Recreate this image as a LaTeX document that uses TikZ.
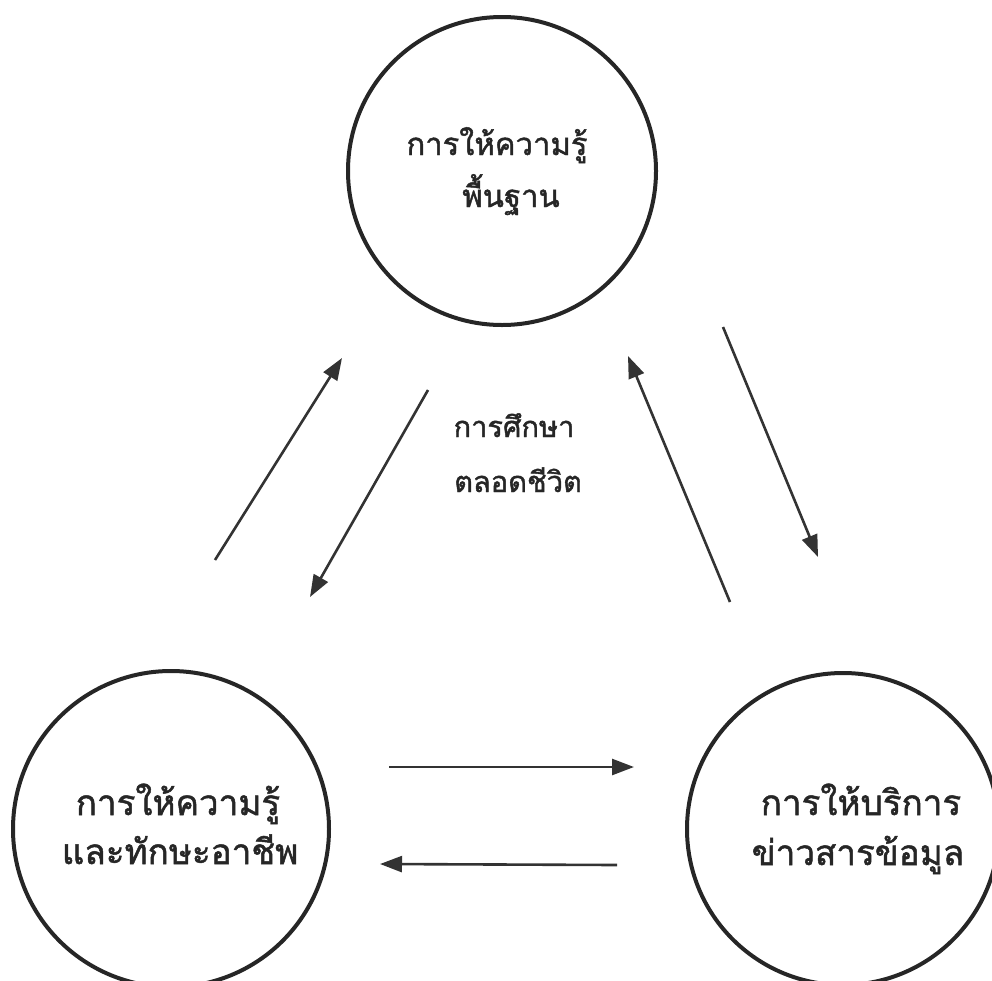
\documentclass[tikz,border=0pt]{standalone}
\usepackage{fontspec}
\newfontfamily\thaifont[Script=Thai,FakeBold=1.4]{Loma}
\usetikzlibrary{arrows.meta}
\tikzset{
  ring/.style={draw=black!85, line width=4pt, circle, inner sep=0pt},
  lbl/.style={font=\thaifont, anchor=base, inner sep=0pt, text=black!85},
  flow/.style={draw=black!80, line width=2.6pt, -{Triangle[length=22pt,width=16pt]}},
}
\begin{document}
\begin{tikzpicture}[x=1pt,y=-1pt]
\useasboundingbox (0,0) rectangle (992,980);
% circles
\node[ring, minimum size=308pt] (top) at (502,171) {};
\node[ring, minimum size=316pt] (bl) at (171,829) {};
\node[ring, minimum size=312pt] (br) at (843,829) {};
% labels
\node[lbl, font=\thaifont\fontsize{31}{36}\selectfont] (t1) at (497,155) {การให้ความรู้};
\node[lbl, font=\thaifont\fontsize{31}{36}\selectfont] (t2) at (511,207) {พื้นฐาน};
\node[lbl, font=\thaifont\fontsize{35}{40}\selectfont] (l1) at (178,815) {การให้ความรู้};
\node[lbl, font=\thaifont\fontsize{35}{40}\selectfont] (l2) at (180,864) {และทักษะอาชีพ};
\node[lbl, font=\thaifont\fontsize{35}{40}\selectfont] (r1) at (861,815) {การให้บริการ};
\node[lbl, font=\thaifont\fontsize{35}{40}\selectfont] (r2) at (858,865) {ข่าวสารข้อมูล};
\node[lbl, font=\thaifont\fontsize{29}{34}\selectfont] (c1) at (514,437) {การศึกษา};
\node[lbl, font=\thaifont\fontsize{29}{34}\selectfont] (c2) at (518,492) {ตลอดชีวิต};
% arrow end points
\coordinate (a1s) at (215,560); \coordinate (a1e) at (342,358);
\coordinate (a2s) at (428,390); \coordinate (a2e) at (310,597);
\coordinate (a3s) at (730,602); \coordinate (a3e) at (628,356);
\coordinate (a4s) at (723,327); \coordinate (a4e) at (818,557);
\coordinate (a5s) at (389,767); \coordinate (a5e) at (634,767);
\coordinate (a6s) at (617,865); \coordinate (a6e) at (380,864);
\draw[flow] (a1s) -- (a1e);
\draw[flow] (a2s) -- (a2e);
\draw[flow] (a3s) -- (a3e);
\draw[flow] (a4s) -- (a4e);
\draw[flow] (a5s) -- (a5e);
\draw[flow] (a6s) -- (a6e);
\end{tikzpicture}
\end{document}
